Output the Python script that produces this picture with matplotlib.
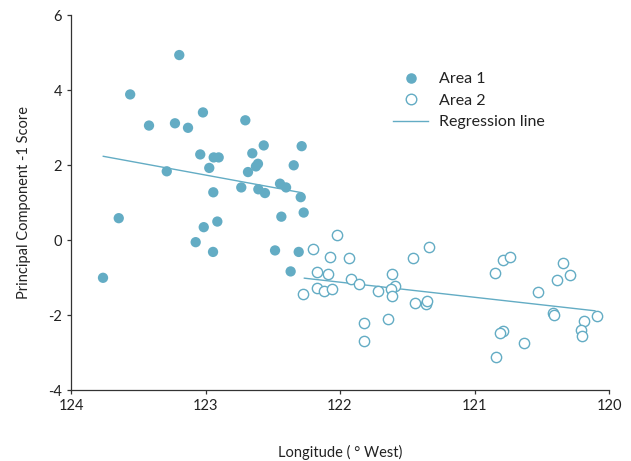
import matplotlib
matplotlib.use('Agg')
import matplotlib.pyplot as plt
from matplotlib.lines import Line2D
from matplotlib.legend_handler import HandlerLine2D

plt.rcParams['font.family'] = ['Lato', 'DejaVu Sans']
plt.rcParams['font.size'] = 10
plt.rcParams['axes.unicode_minus'] = False

# Area 1 (filled)
area1_lon = [123.195, 123.56, 123.42, 123.227, 123.13, 123.019, 122.704, 123.039,
             122.939, 122.902, 122.972, 123.288, 122.652, 122.567, 122.285, 122.610,
             122.625, 122.344, 122.684, 122.942, 122.734, 122.607, 122.558, 122.446,
             122.401, 122.292, 122.270, 122.436, 123.645, 122.912, 123.013, 123.073,
             122.944, 122.483, 122.307, 122.367, 123.762]
area1_pc1 = [4.94, 3.89, 3.06, 3.12, 3.00, 3.41, 3.20, 2.29,
             2.21, 2.21, 1.93, 1.84, 2.32, 2.53, 2.51, 2.04,
             1.97, 2.00, 1.82, 1.28, 1.41, 1.36, 1.26, 1.51,
             1.41, 1.15, 0.74, 0.63, 0.59, 0.50, 0.35, -0.05,
             -0.31, -0.27, -0.31, -0.83, -1.00]

# Area 2 (open)
area2_lon = [122.020, 122.199, 122.074, 121.933, 121.459, 121.338, 122.169, 122.091,
             121.916, 121.861, 121.611, 121.593, 121.623, 121.613, 121.720, 122.173,
             122.119, 122.059, 122.277, 121.440, 121.363, 121.355, 121.824, 121.645,
             121.824, 120.845, 120.786, 120.738, 120.526, 120.416, 120.410, 120.340,
             120.384, 120.288, 120.091, 120.188, 120.210, 120.198, 120.790, 120.813,
             120.632, 120.840]
area2_pc1 = [0.13, -0.22, -0.44, -0.48, -0.48, -0.18, -0.85, -0.90,
             -1.03, -1.16, -0.91, -1.22, -1.31, -1.49, -1.36, -1.26,
             -1.35, -1.31, -1.43, -1.68, -1.70, -1.63, -2.21, -2.11,
             -2.68, -0.88, -0.52, -0.44, -1.39, -1.95, -1.99, -0.60,
             -1.05, -0.92, -2.01, -2.16, -2.39, -2.54, -2.42, -2.48,
             -2.75, -3.10]

# regression line end points
reg1_lon = [123.76, 122.285]
reg1_pc1 = [2.24, 1.27]
reg2_lon = [122.265, 120.104]
reg2_pc1 = [-1.01, -1.88]

teal = '#63acc4'
dark = '#333333'


class MarkerRight(HandlerLine2D):
    # legend marker sits right of the handle centre, like the original
    def get_xdata(self, legend, xdescent, ydescent, width, height, fontsize):
        xdata, xm = super().get_xdata(legend, xdescent, ydescent, width, height, fontsize)
        return xdata, [-xdescent + 0.77 * width]


fig = plt.figure(figsize=(6.31, 4.61), dpi=100)
ax = fig.add_axes([71 / 631, 70.7 / 461, 538 / 631, 375 / 461])

ax.scatter(area1_lon, area1_pc1, s=55, color=teal, edgecolor='none', zorder=3)
ax.scatter(area2_lon, area2_pc1, s=55, facecolor='white', edgecolor=teal,
           linewidth=1.0, zorder=3)
ax.plot(reg1_lon, reg1_pc1, color=teal, linewidth=1.0, zorder=2)
ax.plot(reg2_lon, reg2_pc1, color=teal, linewidth=1.0, zorder=2)

ax.set_xlim(124, 120)
ax.set_ylim(-4, 6)
ax.set_xticks([124, 123, 122, 121, 120])
ax.set_yticks([-4, -2, 0, 2, 4, 6])
for sp in ['top', 'right']:
    ax.spines[sp].set_visible(False)
for sp in ['left', 'bottom']:
    ax.spines[sp].set_color(dark)
    ax.spines[sp].set_linewidth(0.9)
ax.tick_params(direction='out', length=3, width=0.9, color=dark, labelcolor='#222222',
               labelsize=10.5)

ax.set_xlabel('Longitude ( \u00b0 West)', labelpad=23, color='#222222', fontsize=10.5)
ax.set_ylabel('Principal Component -1 Score', labelpad=12.5, color='#222222', fontsize=10.5)

handles = [Line2D([], [], linestyle='none', marker='o', markersize=7.6, color=teal,
                  markeredgecolor='none'),
           Line2D([], [], linestyle='none', marker='o', markersize=7.6,
                  markerfacecolor='white', markeredgecolor=teal, markeredgewidth=1.0),
           Line2D([], [], color=teal, linewidth=1.0)]
labels = ['Area 1', 'Area 2', 'Regression line']
leg = ax.legend(handles, labels, loc='upper left', bbox_to_anchor=(393 / 631, 1 - 72 / 461),
                bbox_transform=fig.transFigure, frameon=False, handlelength=2.2,
                handletextpad=0.65, labelspacing=0.46, borderpad=0, borderaxespad=0,
                fontsize=11.5, handler_map={handles[0]: MarkerRight(), handles[1]: MarkerRight()})
for t in leg.get_texts():
    t.set_color('#222222')

fig.savefig('out.png', dpi=100)
